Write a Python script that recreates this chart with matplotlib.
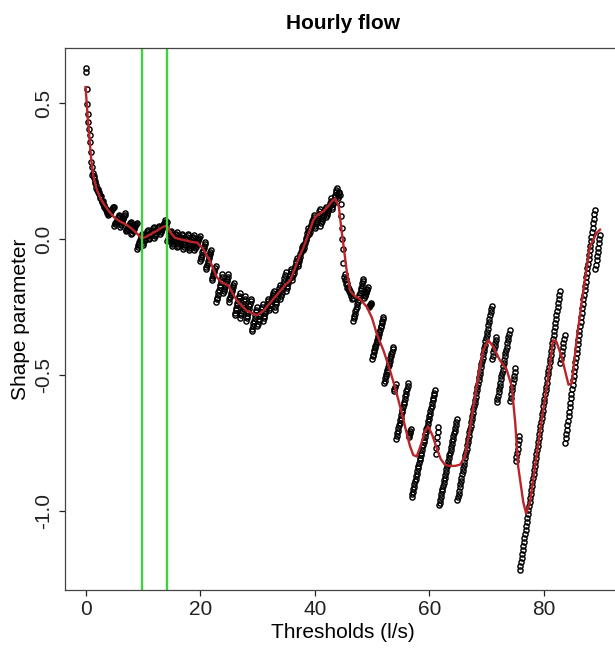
import numpy as np
import matplotlib
matplotlib.use("Agg")
import matplotlib.pyplot as plt

plt.rcParams['font.family'] = ['Liberation Sans', 'DejaVu Sans']

# shape parameter estimates, one per threshold (0.0, 0.1, ... 89.8 l/s)
shape_low = [
    0.630, 0.615, 0.552, 0.497, 0.461, 0.431, 0.406, 0.382, 0.358, 0.321,   # 0
    0.285, 0.266, 0.236, 0.245, 0.232, 0.225, 0.214, 0.205, 0.198, 0.188,
    0.180, 0.186, 0.175, 0.168, 0.172, 0.160, 0.152, 0.158, 0.142, 0.135,
    0.140, 0.128, 0.120, 0.126, 0.115, 0.108, 0.112, 0.104, 0.098, 0.105,
    0.090, 0.093, 0.097, 0.100, 0.103, 0.107, 0.110, 0.113, 0.117, 0.120,
    0.050, 0.054, 0.059, 0.063, 0.068, 0.072, 0.077, 0.081, 0.086, 0.090,   # 5
    0.045, 0.051, 0.056, 0.062, 0.067, 0.073, 0.078, 0.084, 0.089, 0.095,
    0.030, 0.034, 0.038, 0.042, 0.046, 0.049, 0.053, 0.057, 0.061, 0.065,
    0.020, 0.024, 0.029, 0.033, 0.038, 0.042, 0.047, 0.051, 0.056, 0.060,
    -0.035, -0.029, -0.023, -0.017, -0.011, -0.004, 0.002, 0.008, 0.014, 0.020,
    -0.020, -0.014, -0.008, -0.002, 0.004, 0.011, 0.017, 0.023, 0.029, 0.035,  # 10
    0.000, 0.005, 0.010, 0.015, 0.020, 0.025, 0.030, 0.035, 0.040, 0.045,
    0.005, 0.010, 0.015, 0.020, 0.025, 0.030, 0.035, 0.040, 0.045, 0.050,
    0.020, 0.026, 0.031, 0.037, 0.042, 0.048, 0.053, 0.059, 0.064, 0.070,
    0.050, 0.060, 0.065, -0.005, 0.000, 0.005, 0.010, 0.020, 0.025, 0.030,
    -0.025, -0.019, -0.014, -0.008, -0.003, 0.003, 0.008, 0.014, 0.019, 0.025,  # 15
    -0.030, -0.024, -0.019, -0.013, -0.008, -0.002, 0.003, 0.009, 0.014, 0.020,
    -0.035, -0.029, -0.023, -0.017, -0.011, -0.004, 0.002, 0.008, 0.014, 0.020,
    -0.040, -0.034, -0.028, -0.022, -0.016, -0.009, -0.003, 0.003, 0.009, 0.015,
    -0.040, -0.034, -0.029, -0.023, -0.018, -0.012, -0.007, -0.001, 0.004, 0.010,
    -0.080, -0.072, -0.064, -0.057, -0.049, -0.041, -0.033, -0.026, -0.018, -0.010,  # 20
    -0.110, -0.102, -0.094, -0.087, -0.079, -0.071, -0.063, -0.056, -0.048, -0.040,
    -0.150, -0.143, -0.136, -0.129, -0.121, -0.114, -0.107, -0.100, -0.230, -0.222,
    -0.215, -0.206, -0.196, -0.187, -0.177, -0.168, -0.158, -0.149, -0.139, -0.130,
    -0.200, -0.192, -0.184, -0.177, -0.169, -0.161, -0.153, -0.146, -0.138, -0.130,
    -0.230, -0.222, -0.214, -0.207, -0.199, -0.191, -0.183, -0.176, -0.168, -0.160,  # 25
    -0.280, -0.271, -0.262, -0.253, -0.244, -0.236, -0.227, -0.218, -0.209, -0.200,
    -0.290, -0.281, -0.272, -0.263, -0.254, -0.246, -0.237, -0.228, -0.219, -0.210,
    -0.300, -0.291, -0.282, -0.273, -0.264, -0.256, -0.247, -0.238, -0.229, -0.220,
    -0.340, -0.330, -0.320, -0.310, -0.300, -0.290, -0.280, -0.270, -0.260, -0.250,
    -0.320, -0.311, -0.302, -0.293, -0.284, -0.276, -0.267, -0.258, -0.249, -0.240,  # 30
    -0.300, -0.291, -0.282, -0.273, -0.264, -0.256, -0.247, -0.238, -0.229, -0.220,
    -0.260, -0.252, -0.244, -0.237, -0.229, -0.221, -0.213, -0.206, -0.198, -0.190,
    -0.260, -0.250, -0.240, -0.230, -0.220, -0.210, -0.200, -0.190, -0.180, -0.170,
    -0.220, -0.209, -0.198, -0.187, -0.176, -0.164, -0.153, -0.142, -0.131, -0.120,
    -0.190, -0.181, -0.172, -0.163, -0.154, -0.146, -0.137, -0.128, -0.119, -0.110,  # 35
    -0.150, -0.141, -0.132, -0.123, -0.114, -0.106, -0.097, -0.088, -0.079, -0.070,
    -0.100, -0.091, -0.082, -0.073, -0.064, -0.056, -0.047, -0.038, -0.029, -0.020,
    -0.040, -0.031, -0.022, -0.013, -0.004, 0.004, 0.013, 0.022, 0.031, 0.040,
    0.020, 0.028, 0.036, 0.043, 0.051, 0.059, 0.067, 0.074, 0.082, 0.090,
    0.040, 0.048, 0.056, 0.063, 0.071, 0.079, 0.087, 0.094, 0.102, 0.110,   # 40
    0.050, 0.058, 0.066, 0.073, 0.081, 0.089, 0.097, 0.104, 0.112, 0.120,
    0.080, 0.088, 0.096, 0.103, 0.111, 0.119, 0.127, 0.134, 0.142, 0.150,
    0.110, 0.119, 0.128, 0.137, 0.146, 0.154, 0.163, 0.172, 0.181, 0.190,
    0.150, 0.160, 0.170, 0.175, 0.163, 0.130, 0.084, 0.041, 0.000, -0.038,
    -0.086, -0.141, -0.130, -0.150, -0.145, -0.165, -0.160, -0.180, -0.175, -0.190,  # 45
]

shape_high = [
    -0.185, -0.200, -0.190, -0.210, -0.200, -0.220, -0.215,          # 46.0
    -0.300, -0.291, -0.283, -0.274, -0.266, -0.257, -0.249, -0.240, -0.232, -0.223,
    -0.214, -0.206, -0.197, -0.189, -0.180, -0.172, -0.163, -0.155, -0.146,
    -0.215, -0.210, -0.204, -0.199, -0.194, -0.189, -0.183, -0.178,  # 48.6
    -0.250, -0.247, -0.244, -0.241, -0.238, -0.235,                  # 49.4
    -0.440, -0.432, -0.425, -0.417, -0.409, -0.402, -0.394, -0.386, -0.379, -0.371,  # 50.0
    -0.364, -0.356, -0.348, -0.341, -0.333, -0.325, -0.318, -0.310, -0.302, -0.295,
    -0.287,
    -0.530, -0.522, -0.513, -0.505, -0.497, -0.488, -0.480, -0.472, -0.464, -0.455,  # 52.1
    -0.447, -0.439, -0.430, -0.422, -0.414, -0.405, -0.397,
    -0.560, -0.552, -0.543, -0.535,                                  # 53.8
    -0.735, -0.725, -0.715, -0.706, -0.696, -0.686, -0.676, -0.667, -0.657, -0.647,  # 54.2
    -0.637, -0.628, -0.618, -0.608, -0.598, -0.589, -0.579, -0.569, -0.559, -0.550,
    -0.540, -0.530,
    -0.730, -0.722, -0.715, -0.708, -0.700,                          # 56.4
    -0.950, -0.940, -0.931, -0.921, -0.911, -0.902, -0.892, -0.883, -0.873, -0.863,  # 56.9
    -0.854, -0.844, -0.834, -0.825, -0.815, -0.806, -0.796, -0.786, -0.777, -0.767,
    -0.757, -0.748, -0.738, -0.729, -0.719, -0.709, -0.700, -0.690, -0.680, -0.671,
    -0.661, -0.652, -0.642, -0.632, -0.623, -0.613, -0.603, -0.594, -0.584, -0.574,
    -0.565, -0.555,
    -0.790, -0.770, -0.750, -0.730, -0.710, -0.690,                  # 61.1
    -0.980, -0.970, -0.960, -0.949, -0.939, -0.929, -0.919, -0.909, -0.898, -0.888,  # 61.7
    -0.878, -0.868, -0.858, -0.847, -0.837, -0.827, -0.817, -0.807, -0.796, -0.786,
    -0.776, -0.766, -0.756, -0.745, -0.735, -0.725, -0.715, -0.705, -0.694, -0.684,
    -0.674, -0.664,
    -0.962, -0.950, -0.938, -0.926, -0.914, -0.902, -0.890, -0.878, -0.866, -0.854,  # 64.9
    -0.843, -0.831, -0.819, -0.807, -0.795, -0.783, -0.771, -0.759, -0.747, -0.735,
    -0.723, -0.711, -0.699, -0.687, -0.675, -0.663, -0.651, -0.639, -0.627, -0.615,
    -0.604, -0.592, -0.580, -0.568, -0.556, -0.544, -0.532, -0.520, -0.508, -0.496,
    -0.484, -0.472, -0.460, -0.448, -0.436, -0.424, -0.412, -0.400, -0.388, -0.376,
    -0.365, -0.353, -0.341, -0.329, -0.317, -0.305, -0.293, -0.281, -0.269, -0.257,
    -0.245,
    -0.440, -0.429, -0.417, -0.406, -0.394, -0.383, -0.371, -0.360,  # 71.0
    -0.600, -0.588, -0.576, -0.564, -0.552, -0.540, -0.528, -0.516, -0.504, -0.492,  # 71.8
    -0.480, -0.468, -0.456, -0.444, -0.432, -0.420, -0.408, -0.396, -0.384, -0.372,
    -0.360, -0.348, -0.336,
    -0.597, -0.584, -0.570, -0.557, -0.543, -0.530, -0.516, -0.503, -0.489, -0.476,  # 74.1
    -0.816, -0.801, -0.786, -0.771, -0.755, -0.740, -0.725,          # 75.1
    -1.218, -1.203, -1.189, -1.174, -1.159, -1.145, -1.130, -1.115, -1.101, -1.086,  # 75.8
    -1.071, -1.056, -1.042, -1.027, -1.012, -0.998, -0.983, -0.968, -0.954, -0.939,
    -0.924, -0.910, -0.895, -0.880, -0.866, -0.851, -0.836, -0.822, -0.807, -0.792,
    -0.777, -0.763, -0.748, -0.733, -0.719, -0.704, -0.689, -0.675, -0.660, -0.645,
    -0.631, -0.616, -0.601, -0.587, -0.572, -0.557, -0.543, -0.528, -0.513, -0.498,
    -0.484, -0.469, -0.454, -0.440, -0.425, -0.410, -0.396, -0.381, -0.366, -0.352,
    -0.337, -0.322, -0.308, -0.293, -0.278, -0.264, -0.249, -0.234, -0.220, -0.205,
    -0.190,
    -0.457, -0.442, -0.428, -0.413, -0.398, -0.383, -0.369, -0.354,  # 82.9
    -0.750, -0.734, -0.717, -0.701, -0.684, -0.668, -0.651, -0.635, -0.618, -0.602,  # 83.7
    -0.585, -0.569, -0.552, -0.536, -0.519, -0.503, -0.486, -0.470, -0.453, -0.437,
    -0.420, -0.404, -0.387, -0.371, -0.354, -0.338, -0.321, -0.305, -0.288, -0.272,
    -0.255, -0.239, -0.222, -0.206, -0.189, -0.173, -0.156, -0.140, -0.123, -0.107,
    -0.090, -0.074, -0.057, -0.041, -0.024, -0.008, 0.009, 0.025, 0.042, 0.058,
    0.075, 0.091, 0.108,
    -0.110, -0.094, -0.078, -0.062, -0.046, -0.031, -0.015, 0.001, 0.017,  # 89.0
]

shape = np.array(shape_low + shape_high)
thresholds = np.arange(len(shape)) * 0.1

# smoothed curve (red)
smooth_x = [0.0, 0.2, 0.4, 0.6, 0.8, 1.0, 1.3, 1.6, 2.0, 2.5, 3.0, 4.0, 5.0, 6.0, 7.0,
            8.0, 9.0, 9.8, 10.5, 11.5, 12.5, 13.5, 14.2, 14.8, 15.6, 16.5, 17.5, 18.5,
            19.5, 20.5, 21.7, 22.9, 23.8, 24.9, 26.4, 28.1, 29.9, 31.0, 31.6, 33.0,
            34.0, 35.0, 35.7, 36.5, 37.3, 38.0, 39.0, 39.8, 40.5, 41.5, 42.3, 43.0,
            43.6, 44.2, 44.7, 45.0, 45.6, 46.2, 47.0, 47.9, 49.1, 50.0, 50.8, 52.0,
            53.1, 54.2, 55.2, 56.0, 56.6, 57.2, 57.8, 58.5, 59.2, 59.8, 60.5, 61.3,
            62.0, 62.7, 63.5, 64.5, 65.4, 66.2, 67.0, 67.7, 68.5, 69.4, 70.3, 71.2,
            72.3, 73.5, 74.4, 75.0, 75.5, 76.4, 76.9, 77.6, 78.7, 79.9, 81.1, 81.6,
            82.2, 83.1, 84.3, 84.9, 85.7, 86.9, 88.0, 89.2, 89.8]
smooth_y = [0.56, 0.50, 0.44, 0.39, 0.34, 0.29, 0.24, 0.21, 0.18, 0.155, 0.135, 0.105,
            0.08, 0.065, 0.055, 0.04, 0.02, 0.003, 0.008, 0.02, 0.032, 0.045, 0.05,
            0.025, 0.005, 0.0, -0.005, -0.01, -0.013, -0.035, -0.08, -0.14, -0.16,
            -0.17, -0.226, -0.263, -0.28, -0.265, -0.25, -0.215, -0.19, -0.165, -0.153,
            -0.11, -0.065, -0.032, 0.025, 0.072, 0.09, 0.102, 0.12, 0.139, 0.15, 0.12,
            0.03, -0.02, -0.12, -0.19, -0.21, -0.22, -0.25, -0.29, -0.347, -0.41,
            -0.48, -0.56, -0.64, -0.71, -0.76, -0.795, -0.80, -0.76, -0.71, -0.69,
            -0.72, -0.77, -0.81, -0.83, -0.835, -0.835, -0.83, -0.80, -0.71, -0.616,
            -0.51, -0.41, -0.372, -0.397, -0.445, -0.48, -0.543, -0.676, -0.835,
            -0.968, -1.01, -0.967, -0.80, -0.628, -0.457, -0.372, -0.378, -0.433,
            -0.536, -0.53, -0.372, -0.19, -0.03, 0.023, 0.035]

# selected threshold range (green)
vlines = [9.8, 14.3]

fig = plt.figure(figsize=(6.15, 6.48), dpi=100)
W, H = 615, 648
ax = fig.add_axes([65 / W, 1 - 590 / H, (620.6 - 65) / W, (590 - 48) / H])

ax.plot(thresholds, shape, 'o', mfc='none', mec='black', ms=3.7, mew=1.05)
ax.plot(smooth_x, smooth_y, color='#bb2429', lw=1.7)
for v in vlines:
    ax.axvline(v, color='#3fd23f', lw=1.7)

xr = thresholds.max() - thresholds.min()
yr = shape.max() - shape.min()
ax.set_xlim(thresholds.min() - 0.04 * xr, thresholds.max() + 0.04 * xr)
ax.set_ylim(shape.min() - 0.04 * yr, shape.max() + 0.04 * yr)

ax.set_xticks([0, 20, 40, 60, 80])
ax.set_yticks([-1.0, -0.5, 0.0, 0.5])
ax.set_yticklabels(['-1.0', '-0.5', '0.0', '0.5'], rotation=90, va='center')
ax.tick_params(direction='out', length=4.5, width=0.9, labelsize=15, colors='#222222')
ax.tick_params(axis='x', pad=2.5)
ax.tick_params(axis='y', pad=4)
for s in ax.spines.values():
    s.set_linewidth(0.9)
    s.set_color('#444444')

ax.set_xlabel('Thresholds (l/s)', fontsize=15, labelpad=3)
ax.set_ylabel('Shape parameter', fontsize=15, labelpad=3)
ax.set_title('Hourly flow', fontsize=15, fontweight='bold', pad=14)

fig.savefig('out.png', dpi=100)
